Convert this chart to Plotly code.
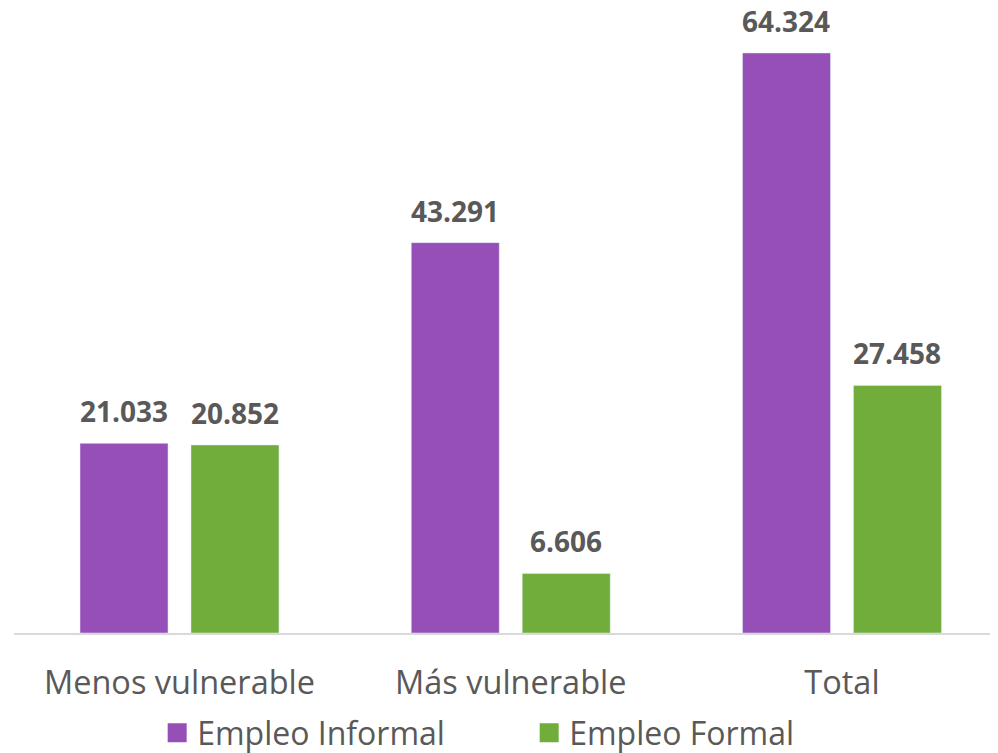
import plotly.graph_objects as go

categorias = ['Menos vulnerable', 'Más vulnerable', 'Total']
empleo_informal = [21033, 43291, 64324]
empleo_formal = [20852, 6606, 27458]

fuente = 'Open Sans'
gris = '#595959'
morado = '#954FB6'
verde = '#70AD3A'

fig = go.Figure()

# barras agrupadas (sin leyenda propia)
fig.add_trace(go.Bar(x=categorias, y=empleo_informal, name='Empleo Informal',
                     marker=dict(color=morado), showlegend=False))
fig.add_trace(go.Bar(x=categorias, y=empleo_formal, name='Empleo Formal',
                     marker=dict(color=verde), showlegend=False))

# etiquetas de datos encima de cada barra
for valores, desplaz in [(empleo_informal, -55.5), (empleo_formal, 55.5)]:
    for cat, v in zip(categorias, valores):
        fig.add_annotation(x=cat, y=v, text=f'{v:,}'.replace(',', '.'),
                           xshift=desplaz, yshift=11, yanchor='bottom',
                           showarrow=False,
                           font=dict(family=fuente, size=28, color=gris, weight='bold'))

# leyenda con cuadrados más grandes
for nombre, color in [('Empleo Informal', morado), ('Empleo Formal', verde)]:
    fig.add_trace(go.Scatter(x=[None], y=[None], mode='markers', name=nombre,
                             marker=dict(symbol='square', size=16, color=color,
                                         line=dict(width=3, color=color))))

# la página añade 8px de margen al body: figura 8px más pequeña
fig.update_layout(
    width=990, height=745,
    margin=dict(l=6, r=0, t=12, b=120),
    paper_bgcolor='white', plot_bgcolor='white',
    barmode='group', bargap=0.33, bargroupgap=0.207,
    font=dict(family=fuente, color=gris),
    showlegend=True,
    legend=dict(orientation='h', x=0.1455, xanchor='left',
                y=0.027, yref='container', yanchor='middle',
                font=dict(family=fuente, size=32, color=gris),
                entrywidth=327, entrywidthmode='pixels', tracegroupgap=0),
)
fig.update_xaxes(type='category', range=[-0.4996, 2.471],
                 showline=True, linecolor='#D9D9D9', linewidth=2,
                 tickfont=dict(family=fuente, size=32.5, color=gris),
                 ticks='outside', ticklen=20, tickcolor='rgba(0,0,0,0)', showgrid=False)
fig.update_yaxes(range=[0, 67980], visible=False, showgrid=False, zeroline=False)

fig.write_html('out.html')
